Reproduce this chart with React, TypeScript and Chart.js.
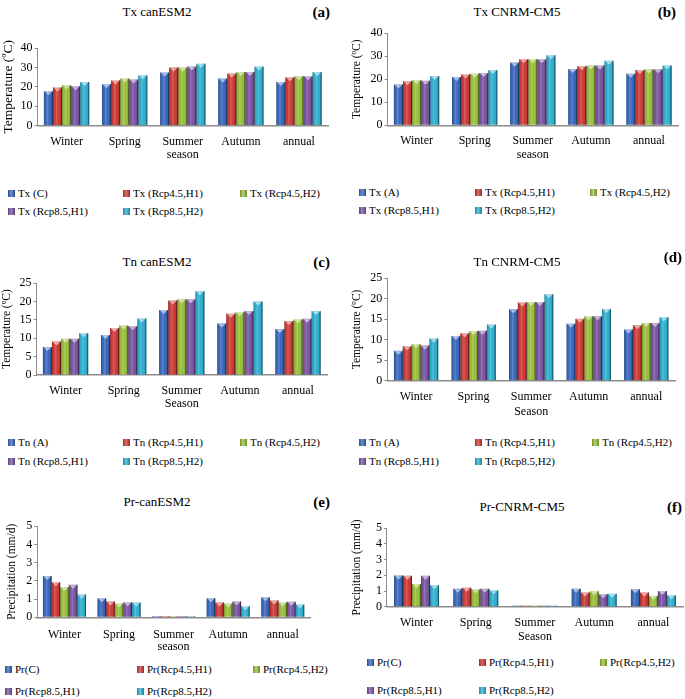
import React, { useEffect, useRef } from "react";
import { Chart, registerables } from "chart.js";
Chart.register(...registerables);

// ---------- data ----------
const seasons = ["Winter", "Spring", "Summer", "Autumn", "annual"];

// rows: C/A, Rcp4.5 H1, Rcp4.5 H2, Rcp8.5 H1, Rcp8.5 H2 ; columns: seasons
const txCanESM2 = [
  [17.7, 21.3, 27.4, 24.3, 22.5],
  [19.7, 23.3, 30.0, 26.9, 25.0],
  [20.8, 24.3, 30.0, 27.7, 25.5],
  [20.3, 23.8, 30.5, 27.7, 25.5],
  [22.5, 26.0, 32.0, 30.5, 27.7],
];
const txCNRM = [
  [17.7, 21.0, 27.3, 24.4, 22.4],
  [19.1, 22.1, 28.7, 25.7, 24.0],
  [19.6, 22.4, 28.7, 26.0, 24.3],
  [19.4, 22.7, 28.7, 26.0, 24.3],
  [21.4, 24.0, 30.4, 28.0, 26.0],
];
const tnCanESM2 = [
  [7.6, 10.9, 17.7, 14.0, 12.5],
  [9.1, 12.8, 20.3, 16.7, 14.7],
  [9.9, 13.5, 20.6, 17.1, 15.1],
  [9.9, 13.3, 20.6, 17.4, 15.3],
  [11.4, 15.4, 22.8, 20.0, 17.4],
];
const tnCNRM = [
  [7.3, 10.9, 17.4, 13.9, 12.5],
  [8.4, 11.6, 19.1, 15.1, 13.5],
  [8.9, 12.1, 19.2, 15.7, 14.1],
  [8.6, 12.2, 19.2, 15.7, 14.1],
  [10.3, 13.7, 21.1, 17.5, 15.5],
];
const prCanESM2 = [
  [2.27, 1.05, 0.06, 1.05, 1.1],
  [1.93, 0.87, 0.06, 0.81, 0.92],
  [1.66, 0.76, 0.06, 0.76, 0.81],
  [1.79, 0.81, 0.06, 0.87, 0.85],
  [1.25, 0.81, 0.06, 0.61, 0.7],
];
const prCNRM = [
  [1.99, 1.15, 0.06, 1.15, 1.11],
  [1.97, 1.21, 0.06, 0.9, 0.9],
  [1.44, 1.11, 0.06, 0.98, 0.69],
  [1.97, 1.15, 0.06, 0.79, 1.0],
  [1.36, 1.05, 0.06, 0.82, 0.73],
];

const txLabelsC = ["Tx (C)", "Tx (Rcp4.5,H1)", "Tx (Rcp4.5,H2)", "Tx (Rcp8.5,H1)", "Tx (Rcp8.5,H2)"];
const txLabelsA = ["Tx (A)", "Tx (Rcp4.5,H1)", "Tx (Rcp4.5,H2)", "Tx (Rcp8.5,H1)", "Tx (Rcp8.5,H2)"];
const tnLabels = ["Tn (A)", "Tn (Rcp4.5,H1)", "Tn (Rcp4.5,H2)", "Tn (Rcp8.5,H1)", "Tn (Rcp8.5,H2)"];
const prLabels = ["Pr(C)", "Pr(Rcp4.5,H1)", "Pr(Rcp4.5,H2)", "Pr(Rcp8.5,H1)", "Pr(Rcp8.5,H2)"];

// ---------- style ----------
const COLORS = ["#3A6BC0", "#D23C38", "#9CC43E", "#7D57A6", "#30B4D4"];
const FONT = "'Liberation Serif', 'Times New Roman', serif";

const PANELS = [
  { tag: "(a)", title: "Tx  canESM2", series: txCanESM2, labels: txLabelsC, yMax: 40, step: 10,
    yTitle: "Temperature (ºC)", yTitleSize: 13.5, xTitle: "season",
    left: 0, axisX: 37.5, right: 327.5, top: 47.3, bottom: 125.7, xLabelY: 140, xTitleY: 155,
    titleX: 157, titleY: 12, tagRight: 330, tagY: 12, yTitleX: 7,
    rows: [193, 211], cols: [8, 123, 240], cat: 0.78 },
  { tag: "(b)", title: "Tx CNRM-CM5", series: txCNRM, labels: txLabelsA, yMax: 40, step: 10,
    yTitle: "Temperature (ºC)", yTitleSize: 11.5, xTitle: "season",
    left: 342, axisX: 387.5, right: 677.5, top: 31.7, bottom: 125, xLabelY: 139, xTitleY: 155,
    titleX: 517, titleY: 12, tagRight: 676, tagY: 12, yTitleX: 357,
    rows: [192, 210], cols: [359, 475, 590], cat: 0.78 },
  { tag: "(c)", title: "Tn  canESM2", series: tnCanESM2, labels: tnLabels, yMax: 25, step: 5,
    yTitle: "Temperature (ºC)", yTitleSize: 11.5, xTitle: "Season",
    left: 0, axisX: 36.5, right: 326.5, top: 281.7, bottom: 374.7, xLabelY: 389, xTitleY: 404,
    titleX: 157, titleY: 262, tagRight: 330, tagY: 262, yTitleX: 7,
    rows: [442, 461], cols: [8, 123, 240], cat: 0.78 },
  { tag: "(d)", title: "Tn CNRM-CM5", series: tnCNRM, labels: tnLabels, yMax: 25, step: 5,
    yTitle: "Temperature (ºC)", yTitleSize: 11.5, xTitle: "Season",
    left: 342, axisX: 387.3, right: 674.8, top: 277.3, bottom: 381, xLabelY: 395, xTitleY: 412,
    titleX: 517, titleY: 262, tagRight: 682, tagY: 257, yTitleX: 357,
    rows: [442, 461], cols: [359, 475, 592], cat: 0.77 },
  { tag: "(e)", title: "Pr-canESM2", series: prCanESM2, labels: prLabels, yMax: 5, step: 1,
    yTitle: "Precipitation (mm/d)", yTitleSize: 11.5, xTitle: "season",
    left: 0, axisX: 37.2, right: 310.4, top: 525, bottom: 617.3, xLabelY: 633, xTitleY: 647,
    titleX: 157, titleY: 502, tagRight: 330, tagY: 502, yTitleX: 12,
    rows: [669, 691], cols: [5, 137, 253], cat: 0.79 },
  { tag: "(f)", title: "Pr-CNRM-CM5", series: prCNRM, labels: prLabels, yMax: 5, step: 1,
    yTitle: "Precipitation (mm/d)", yTitleSize: 11.5, xTitle: "Season",
    left: 342, axisX: 386.9, right: 683.1, top: 527.3, bottom: 607, xLabelY: 621, xTitleY: 637,
    titleX: 522, titleY: 507, tagRight: 682, tagY: 507, yTitleX: 357,
    rows: [662, 690], cols: [367, 479, 600], cat: 0.76 },
];

// 3D-bevel look for the bars (reads element geometry from the library)
const bevelPlugin = {
  id: "bevel",
  afterDatasetsDraw(chart: any) {
    const ctx = chart.ctx;
    chart.data.datasets.forEach((_: any, di: number) => {
      const meta = chart.getDatasetMeta(di);
      meta.data.forEach((el: any) => {
        const { x, y, base, width } = el.getProps(["x", "y", "base", "width"], true);
        const l = x - width / 2;
        const t = Math.min(y, base);
        const h = Math.abs(base - y);
        if (h <= 0) return;
        ctx.save();
        const g = ctx.createLinearGradient(l, 0, l + width, 0);
        g.addColorStop(0, "rgba(0,0,0,0.28)");
        g.addColorStop(0.15, "rgba(0,0,0,0.05)");
        g.addColorStop(0.4, "rgba(255,255,255,0.18)");
        g.addColorStop(0.75, "rgba(0,0,0,0.0)");
        g.addColorStop(1, "rgba(0,0,0,0.35)");
        ctx.fillStyle = g;
        ctx.fillRect(l, t, width, h);
        ctx.fillStyle = "rgba(0,0,0,0.35)";
        ctx.fillRect(l + width - 1, t, 1, h);
        if (h > 4) {
          ctx.fillStyle = "rgba(255,255,255,0.55)";
          ctx.fillRect(l + 1, t, width - 2, 1);
          ctx.beginPath();
          ctx.moveTo(x - 3, t + 1);
          ctx.lineTo(x + 3, t + 1);
          ctx.lineTo(x, t + 4);
          ctx.closePath();
          ctx.fill();
        }
        ctx.restore();
      });
    });
  },
};

function Panel({ p }: { p: any }) {
  const ref = useRef<HTMLCanvasElement>(null);
  const cLeft = p.left;
  const cTop = p.top - 8;
  const cW = Math.round(p.right + 2 - cLeft);
  const cH = Math.round(p.xTitleY + 7 - cTop);
  useEffect(() => {
    const chart = new Chart(ref.current as HTMLCanvasElement, {
      type: "bar",
      data: {
        labels: seasons,
        datasets: p.series.map((d: number[], i: number) => ({
          label: p.labels[i],
          data: d,
          backgroundColor: COLORS[i],
          borderWidth: 0,
          categoryPercentage: p.cat,
          barPercentage: 1,
        })),
      },
      options: {
        animation: false,
        responsive: false,
        devicePixelRatio: 1,
        layout: { padding: { top: 8, right: 2, left: 0, bottom: 0 } },
        plugins: { legend: { display: false }, tooltip: { enabled: false }, title: { display: false } },
        scales: {
          x: {
            grid: { display: false },
            border: { display: true, color: "#8c8c8c", width: 1.5 },
            ticks: {
              font: { family: FONT, size: 12 },
              color: "#000",
              padding: Math.max(0, p.xLabelY - p.bottom - 13.5),
              maxRotation: 0,
              autoSkip: false,
            },
            title: {
              display: true,
              text: p.xTitle,
              font: { family: FONT, size: 12 },
              color: "#000",
              padding: { top: 0, bottom: 0 },
            },
            afterFit: (s: any) => {
              s.height = cTop + cH - p.bottom;
            },
          },
          y: {
            min: 0,
            max: p.yMax,
            ticks: { stepSize: p.step, font: { family: FONT, size: 12 }, color: "#000", padding: 2, autoSkip: false },
            grid: { display: true, drawOnChartArea: false, drawTicks: true, tickLength: 3, color: "#8c8c8c" },
            border: { display: true, color: "#8c8c8c" },
            title: {
              display: true,
              text: p.yTitle,
              font: { family: FONT, size: p.yTitleSize },
              color: "#000",
              padding: { top: Math.max(0, p.yTitleX - cLeft - p.yTitleSize * 0.6), bottom: 0 },
            },
            afterFit: (s: any) => {
              s.width = p.axisX - cLeft;
            },
          },
        },
      },
      plugins: [bevelPlugin],
    } as any);
    return () => chart.destroy();
  }, []);

  const textBase: React.CSSProperties = { position: "absolute", fontFamily: FONT, color: "#000", whiteSpace: "nowrap" };
  return (
    <>
      <canvas
        ref={ref}
        width={cW}
        height={cH}
        style={{ position: "absolute", left: cLeft, top: cTop, width: cW, height: cH }}
      />
      <div style={{ ...textBase, left: p.titleX, top: p.titleY, transform: "translate(-50%,-50%)", fontSize: 13 }}>
        {p.title}
      </div>
      <div
        style={{ ...textBase, left: p.tagRight, top: p.tagY, transform: "translate(-100%,-50%)", fontSize: 15, fontWeight: "bold" }}
      >
        {p.tag}
      </div>
      {p.labels.map((lab: string, i: number) => {
        const row = i < 3 ? 0 : 1;
        const col = i < 3 ? i : i - 3;
        return (
          <div
            key={i}
            style={{
              ...textBase,
              left: p.cols[col],
              top: p.rows[row],
              transform: "translateY(-50%)",
              fontSize: 11,
              display: "flex",
              alignItems: "center",
              gap: 3,
            }}
          >
            <span
              style={{
                display: "inline-block",
                width: 7,
                height: 7,
                background: `linear-gradient(90deg, rgba(0,0,0,0.25), rgba(255,255,255,0.25) 45%, rgba(0,0,0,0.3)), ${COLORS[i]}`,
              }}
            />
            <span>{lab}</span>
          </div>
        );
      })}
    </>
  );
}

export default function App() {
  return (
    <div style={{ position: "absolute", left: 0, top: 0, width: 685, height: 699, background: "#fff", overflow: "hidden" }}>
      {PANELS.map((p, i) => (
        <Panel key={i} p={p} />
      ))}
    </div>
  );
}
